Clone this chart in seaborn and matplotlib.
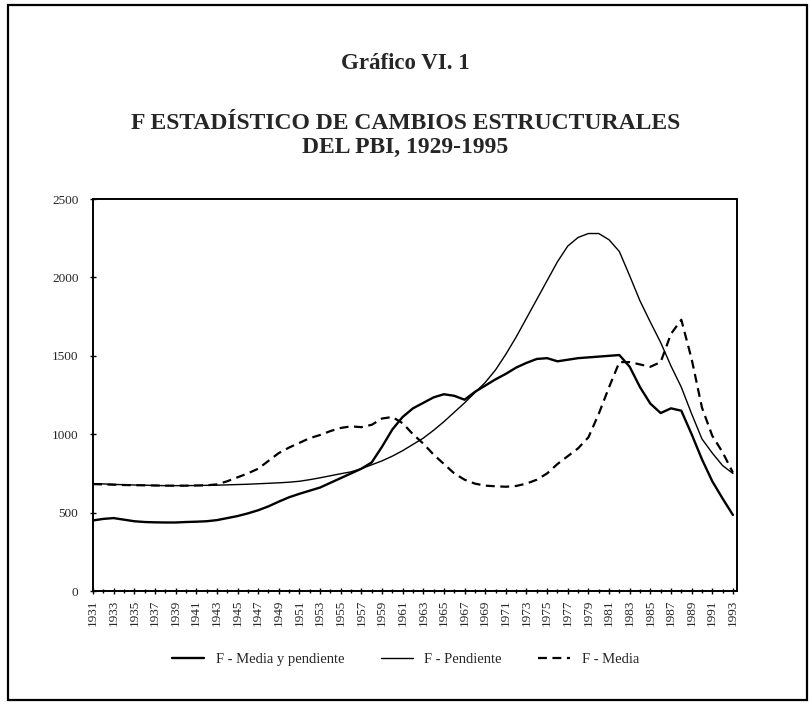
import numpy as np
import pandas as pd
import matplotlib
matplotlib.use("Agg")
import matplotlib.pyplot as plt
import seaborn as sns
from matplotlib.patches import Rectangle
from matplotlib.lines import Line2D

# years shown on the axis
years = list(range(1931, 1994))

# F - Media y pendiente (thick solid)
f_media_pend = [450, 460, 465, 455, 445, 440, 438, 437, 437, 440,
                442, 445, 452, 465, 478, 495, 515, 540, 570, 598,
                620, 640, 660, 690, 720, 750, 780, 820, 920, 1030,
                1110, 1165, 1200, 1235, 1255, 1245, 1220, 1270, 1310, 1350,
                1385, 1425, 1455, 1480, 1485, 1465, 1475, 1485, 1490, 1495,
                1500, 1505, 1430, 1300, 1195, 1135, 1165, 1150, 1000, 840,
                700, 590, 485]

# F - Pendiente (thin solid)
f_pend = [685, 683, 680, 678, 676, 675, 673, 672, 672, 672,
          673, 674, 675, 677, 679, 681, 684, 687, 690, 694,
          700, 710, 722, 735, 748, 760, 780, 805, 830, 860,
          895, 935, 975, 1025, 1080, 1140, 1200, 1265, 1330, 1410,
          1510, 1620, 1740, 1860, 1980, 2100, 2200, 2255, 2280, 2280,
          2240, 2165, 2010, 1850, 1715, 1585, 1435, 1300, 1130, 970,
          880, 800, 750]

# F - Media (dashed)
f_media = [682, 680, 678, 676, 675, 674, 673, 672, 672, 672,
           673, 674, 680, 700, 725, 750, 780, 830, 880, 915,
           945, 975, 995, 1020, 1040, 1050, 1045, 1060, 1100, 1110,
           1070, 1000, 940, 870, 810, 750, 710, 685, 672, 668,
           665, 670, 685, 710, 750, 810, 860, 910, 980, 1130,
           1300, 1460, 1460, 1445, 1430, 1460, 1640, 1730, 1480, 1170,
           990, 885, 755]

labels = ["F - Media y pendiente", "F - Pendiente", "F - Media"]

df = pd.DataFrame({"year": years * 3,
                   "value": f_media_pend + f_pend + f_media,
                   "serie": [labels[0]] * len(years) + [labels[1]] * len(years) + [labels[2]] * len(years)})

sns.set_style("ticks")
plt.rcParams["font.family"] = ["Liberation Serif", "DejaVu Serif"]

fig = plt.figure(figsize=(8.11, 7.02), dpi=100)
ax = fig.add_axes([0.1147, 0.1581, 0.7941, 0.5584])

sns.lineplot(data=df, x="year", y="value", hue="serie", style="serie",
             palette=["black", "black", "black"],
             dashes={labels[0]: "", labels[1]: "", labels[2]: (4, 2.5)},
             size="serie", sizes={labels[0]: 1.7, labels[1]: 1.0, labels[2]: 1.6},
             ax=ax, legend=False)

ax.set_xlim(1931, 1993.4)
ax.set_ylim(0, 2500)
ax.set_xticks(years[::2])
ax.set_xticklabels([str(y) for y in years[::2]], rotation=90, fontsize=9.5)
ax.set_xticks(years, minor=True)
ax.set_yticks([0, 500, 1000, 1500, 2000, 2500])
ax.set_yticklabels(["0", "500", "1000", "1500", "2000", "2500"], fontsize=9.5)
ax.tick_params(axis="both", which="both", direction="inout", length=5, width=1, color="black")
ax.tick_params(axis="x", which="minor", length=3)
ax.tick_params(axis="y", pad=8)
ax.set_xlabel("")
ax.set_ylabel("")
for s in ax.spines.values():
    s.set_visible(True)
    s.set_linewidth(1.4)
    s.set_color("black")

# legend
handles = [Line2D([], [], color="black", lw=1.7),
           Line2D([], [], color="black", lw=1.0),
           Line2D([], [], color="black", lw=1.6, dashes=(4, 2.5))]
fig.legend(handles, labels, loc="center", bbox_to_anchor=(0.5, 0.06), ncol=3,
           frameon=False, fontsize=10.5, handlelength=2.2, columnspacing=2.5)

fig.text(0.5, 0.909, "Gráfico VI. 1", ha="center", va="center", fontsize=16.5, fontweight="bold")
fig.text(0.5, 0.824, "F ESTADÍSTICO DE CAMBIOS ESTRUCTURALES", ha="center", va="center",
         fontsize=17, fontweight="bold")
fig.text(0.5, 0.790, "DEL PBI, 1929-1995", ha="center", va="center", fontsize=17, fontweight="bold")

# outer frame of the figure box
fig.patches.append(Rectangle((0.010, 0.003), 0.985, 0.990, transform=fig.transFigure,
                             fill=False, edgecolor="black", lw=1.6))

fig.savefig("out.png", dpi=100)
